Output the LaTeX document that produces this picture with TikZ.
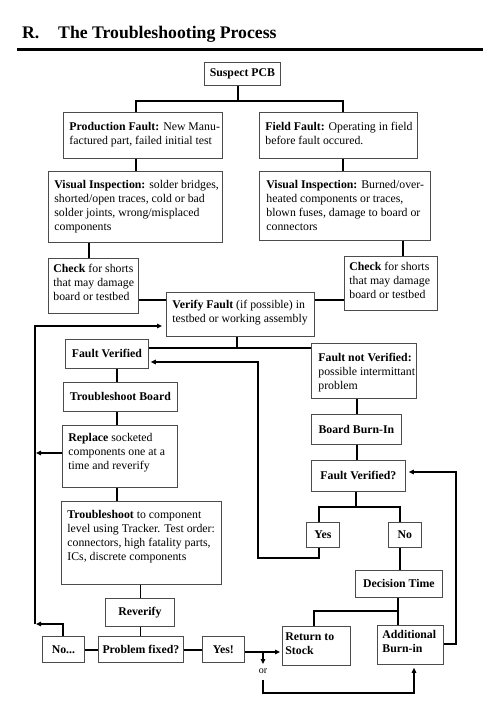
\documentclass[tikz,border=0pt]{standalone}
\usepackage{fontspec}
\setmainfont{Liberation Serif}
\usetikzlibrary{arrows.meta}
\tikzset{
  bx/.style={draw=black!70, line width=0.8pt, fill=white, font=\fontsize{11.8}{14}\selectfont, inner ysep=0pt},
  conn/.style={line width=1.6pt, black},
  arr/.style={conn, -{Triangle[length=5pt,width=4.5pt]}, shorten >=2pt},
}
\newcommand{\tbox}[8]{\node[bx, anchor=north west, inner xsep=0pt] (#1) at (#2,#3) {\parbox[t][#5pt][t]{#4pt}{\vspace*{#7pt}\hspace*{#6pt}\begin{tabular}[t]{@{}l@{}}#8\end{tabular}}};}
\newcommand{\cbox}[6]{\node[bx, anchor=north west, inner xsep=0pt, minimum width=#4pt, minimum height=#5pt, align=center] (#1) at (#2,#3) {#6};}
\begin{document}
\begin{tikzpicture}[x=1pt,y=-1pt]
\useasboundingbox (0,0) rectangle (500,710);
\node[anchor=base west, inner sep=0pt, font=\bfseries\fontsize{17.7}{20}\selectfont] (title) at (22,38) {R.\hspace{18.8pt}The Troubleshooting Process};
\draw[line width=3pt] (17,49.3) -- (483,49.3);

\cbox{spcb}{204}{62}{76}{23}{\textbf{Suspect PCB}}
\tbox{prod}{63}{112}{159}{46}{6}{8.2}{\textbf{Production Fault:} New Manu-\\factured part, failed initial test}
\tbox{field}{259}{112}{158}{46}{6}{8.2}{\textbf{Field Fault:} Operating in field\\before fault occured.}
\tbox{visl}{48}{171}{174}{71}{6}{7.2}{\textbf{Visual Inspection:} solder bridges,\\shorted/open traces, cold or bad\\solder joints, wrong/misplaced\\components}
\tbox{visr}{259}{171}{171}{69}{7}{7.2}{\textbf{Visual Inspection:} Burned/over-\\heated components or traces,\\blown fuses, damage to board or\\connectors}
\tbox{chkl}{48}{258}{90}{55}{5}{4.2}{\textbf{Check} for shorts\\that may damage\\board or testbed}
\tbox{chkr}{344}{256}{93}{54}{5}{4.2}{\textbf{Check} for shorts\\that may damage\\board or testbed}
\tbox{verify}{166}{292}{148}{44}{6}{6.2}{\textbf{Verify Fault} (if possible) in\\testbed or working assembly}
\cbox{fv}{65}{339}{83}{29}{\textbf{Fault Verified}}
\tbox{fnv}{311}{343}{105}{55}{7}{8.2}{\textbf{Fault not Verified:}\\possible intermittant\\problem}
\cbox{tb}{63}{382}{114}{29}{\textbf{Troubleshoot Board}}
\tbox{repl}{62}{425}{115}{62}{6}{6.2}{\textbf{Replace} socketed\\components one at a\\time and reverify}
\cbox{bbi}{311}{414}{90}{30}{\textbf{Board Burn-In}}
\cbox{fvq}{311}{460}{94}{31}{\textbf{Fault Verified?}}
\cbox{yes}{306}{522}{33}{25}{\textbf{Yes}}
\cbox{no}{388}{522}{33}{25}{\textbf{No}}
\cbox{dt}{355}{570}{87}{27}{\textbf{Decision Time}}
\tbox{rts}{282}{626}{68}{39}{3}{4.2}{\textbf{Return to}\\\textbf{Stock}}
\tbox{abi}{377}{625}{66}{39}{5}{3.2}{\textbf{Additional}\\\textbf{Burn-in}}
\tbox{ttc}{61}{501}{160}{83}{6}{7.2}{\textbf{Troubleshoot} to component\\level using Tracker. Test order:\\connectors, high fatality parts,\\ICs, discrete components}
\cbox{rev}{105}{598}{69}{28}{\textbf{Reverify}}
\cbox{pf}{98}{636}{85}{26}{\textbf{Problem fixed?}}
\cbox{nod}{42}{636}{42}{26}{\textbf{No...}}
\cbox{yesx}{202}{636}{42}{26}{\textbf{Yes!}}
\node[font=\fontsize{10}{11}\selectfont, inner sep=0pt] (or) at (263,671) {or};

\coordinate (j1) at (238,101);
\coordinate (ja) at (136,101);
\coordinate (jb) at (343,101);
\coordinate (jc) at (89,250);
\coordinate (jd) at (403,250);
\coordinate (je) at (0,300);
\coordinate (jv) at (237,348);
\coordinate (jl) at (117,0);
\coordinate (jm) at (140.5,0);
\coordinate (jn) at (357,0);
\coordinate (jq) at (356,507);
\coordinate (jy) at (319,507);
\coordinate (jz) at (400,507);
\coordinate (jyb) at (319,558);
\coordinate (jyc) at (258,558);
\coordinate (jyd) at (258,362);
\coordinate (jr) at (398,611);
\coordinate (js) at (314,611);
\coordinate (jt) at (456,644);
\coordinate (ju) at (456,472);
\coordinate (lb) at (35,624);
\coordinate (lt) at (35,326);
\coordinate (lr) at (35,453);
\coordinate (ln) at (63,624);
\coordinate (lp) at (0,650);
\coordinate (lq) at (263,652);
\coordinate (lo) at (263,664);
\coordinate (lv) at (263,680);
\coordinate (lw) at (263,693);
\coordinate (lx) at (414,693);

\draw[conn] (spcb.south -| j1) -- (j1);
\draw[conn] (prod.north -| ja) -- (ja) -- (jb) -- (field.north -| jb);
\draw[conn] (prod.south -| ja) -- (visl.north -| ja);
\draw[conn] (field.south -| jb) -- (visr.north -| jb);
\draw[conn] (visl.south -| jc) -- (chkl.north -| jc);
\draw[conn] (visr.south -| jd) -- (chkr.north -| jd);
\draw[conn] (chkl.east |- je) -- (verify.west |- je);
\draw[conn] (verify.east |- je) -- (chkr.west |- je);
\draw[conn] (verify.south -| jv) -- (jv);
\draw[conn] (fv.east |- jv) -- (fnv.west |- jv);
\draw[conn] (fv.south -| jl) -- (tb.north -| jl);
\draw[conn] (tb.south -| jl) -- (repl.north -| jl);
\draw[conn] (repl.south -| jl) -- (ttc.north -| jl);
\draw[conn] (ttc.south -| jm) -- (rev.north -| jm);
\draw[conn] (rev.south -| jm) -- (pf.north -| jm);
\draw[conn] (fnv.south -| jn) -- (bbi.north -| jn);
\draw[conn] (bbi.south -| jn) -- (fvq.north -| jn);
\draw[conn] (fvq.south -| jq) -- (jq);
\draw[conn] (yes.north -| jy) -- (jy) -- (jz) -- (no.north -| jz);
\draw[arr] (yes.south -| jyb) -- (jyb) -- (jyc) -- (jyd) -- (fv.east |- jyd);
\draw[conn] (no.south -| jz) -- (dt.north -| jz);
\draw[conn] (dt.south -| jr) -- (abi.north -| jr);
\draw[conn] (jr) -- (js) -- (rts.north -| js);
\draw[arr, shorten >=3pt] (abi.east |- jt) -- (jt) -- (ju) -- (fvq.east |- ju);
\draw[arr, shorten >=4pt] (lb) -- (lt) -- (verify.west |- lt);
\draw[arr, shorten >=1pt] (repl.west |- lr) -- (lr);
\draw[arr, shorten >=1pt] (nod.north -| ln) -- (ln) -- (lb);
\draw[conn] (nod.east |- lp) -- (pf.west |- lp);
\draw[conn] (pf.east |- lp) -- (yesx.west |- lp);
\draw[arr] (yesx.east |- lq) -- (rts.west |- lq);
\draw[arr, shorten >=0pt] (lq) -- (lo);
\draw[arr, shorten >=3pt] (lv) -- (lw) -- (lx) -- (abi.south -| lx);
\end{tikzpicture}
\end{document}
